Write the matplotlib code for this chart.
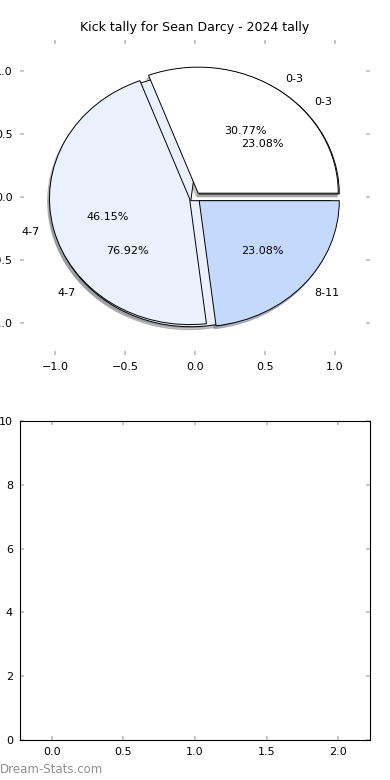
import matplotlib
matplotlib.use("Agg")
import matplotlib.pyplot as plt

title = "Kick tally for Sean Darcy - 2024 tally"
labels_a = ["0-3", "4-7", "8-11"]
values_a = [4, 6, 3]
labels_b = ["0-3", "4-7"]
values_b = [3, 10]
colors = ["#ffffff", "#eaf1fd", "#c5d9fc"]
pie_ticks = [-1.0, -0.5, 0.0, 0.5, 1.0]
bar_xticks = [0.0, 0.5, 1.0, 1.5, 2.0]
bar_yticks = [0, 2, 4, 6, 8, 10]

plt.rcParams['font.family'] = ['DejaVu Sans']
plt.rcParams['font.size'] = 8

fig = plt.figure(figsize=(3.9, 7.8), dpi=100)
ax1 = fig.add_axes([0.051, 0.545, 0.898, 0.404])
ax2 = fig.add_axes([0.051, 0.0513, 0.898, 0.409])

wp = dict(edgecolor="black", linewidth=0.7)
sh = dict(ox=-0.01, oy=-0.017, shade=0.45)
ax1.pie(values_b, labels=labels_b, colors=[colors[0], colors[1]],
        autopct="%1.2f%%", shadow=sh, explode=[0.04, 0.04],
        wedgeprops=wp, frame=False, textprops=dict(fontsize=8))
ax1.pie(values_a, labels=labels_a, colors=colors,
        autopct="%1.2f%%", shadow=sh, explode=[0.04, 0.04, 0.04],
        wedgeprops=wp, frame=False, textprops=dict(fontsize=8))
ax1.set_aspect('auto')
ax1.set_xlim(-1.25, 1.25)
ax1.set_ylim(-1.25, 1.25)
ax1.set_xticks(pie_ticks)
ax1.set_yticks(pie_ticks)
ax1.set_title(title, fontsize=9, pad=6)

ax2.set_xlim(-0.224, 2.224)
ax2.set_ylim(0, 10)
ax2.set_xticks(bar_xticks)
ax2.set_yticks(bar_yticks)

for ax in (ax1, ax2):
    ax.tick_params(direction="in", length=3, width=1.2, color="#bdbdbd",
                   top=True, right=True, labelsize=8, pad=5)

fig.text(0.0, 0.013, "Dream-Stats.com", color="#8f8f8f", fontsize=8.5,
         ha="left", va="center")

fig.savefig("out.png", dpi=100)
